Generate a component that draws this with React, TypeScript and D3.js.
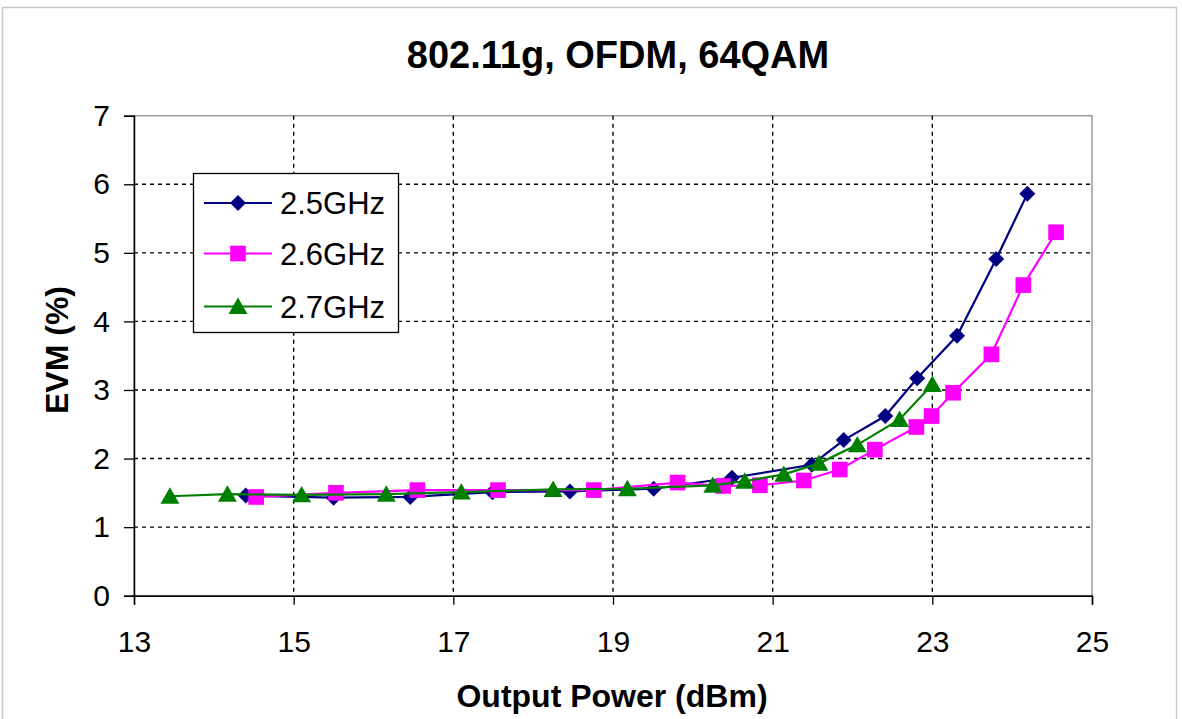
import React, { useEffect, useRef } from 'react';
import * as d3 from 'd3';

interface Pt {
    x: number;
    y: number;
}

// Output power (dBm) and EVM (%) per frequency
const powerA = [14.4, 15.5, 16.46, 17.49, 18.46, 19.51, 20.49, 21.49, 21.89, 22.41, 22.81, 23.31, 23.8, 24.19];
const evmA = [1.46, 1.43, 1.44, 1.51, 1.52, 1.56, 1.72, 1.91, 2.27, 2.62, 3.17, 3.79, 4.91, 5.86];

const powerB = [14.53, 15.53, 16.55, 17.56, 18.76, 19.81, 20.38, 20.84, 21.39, 21.84, 22.28, 22.8, 22.99, 23.26, 23.74, 24.14, 24.55];
const evmB = [1.44, 1.5, 1.54, 1.54, 1.54, 1.65, 1.6, 1.61, 1.68, 1.84, 2.13, 2.46, 2.62, 2.96, 3.52, 4.53, 5.3];

const powerC = [13.45, 14.17, 15.1, 16.16, 17.1, 18.25, 19.18, 20.25, 20.65, 21.14, 21.58, 22.06, 22.59, 23.0];
const evmC = [1.45, 1.48, 1.47, 1.48, 1.51, 1.55, 1.56, 1.61, 1.67, 1.77, 1.93, 2.2, 2.57, 3.08];

const seriesNames = ['2.5GHz', '2.6GHz', '2.7GHz'];
const xTicks = [13, 15, 17, 19, 21, 23, 25];
const yTicks = [0, 1, 2, 3, 4, 5, 6, 7];

const colors = ['#000080', '#FF00FF', '#008000'];

const zip = (xs: number[], ys: number[]): Pt[] => xs.map((x, i) => ({ x, y: ys[i] }));

const App: React.FC = () => {
    const svgRef = useRef<SVGSVGElement | null>(null);

    useEffect(() => {
        if (!svgRef.current) return;
        const svg = d3.select(svgRef.current);
        svg.selectAll('*').remove();

        const width = 1182;
        const height = 719;
        const font = '"Liberation Sans", Arial, sans-serif';

        const x = d3.scaleLinear().domain([13, 25]).range([134, 1092]);
        const y = d3.scaleLinear().domain([0, 7]).range([595.7, 115.7]);

        svg.attr('width', width).attr('height', height);

        svg.append('rect')
            .attr('x', 0).attr('y', 0)
            .attr('width', width).attr('height', height)
            .attr('fill', '#ffffff');

        // outer chart frame
        svg.append('rect')
            .attr('x', 2.5).attr('y', 7.5)
            .attr('width', 1174).attr('height', 720)
            .attr('fill', 'none')
            .attr('stroke', '#c8c8c8')
            .attr('stroke-width', 1.5);

        // plot area border
        svg.append('rect')
            .attr('x', x(13)).attr('y', y(7))
            .attr('width', x(25) - x(13)).attr('height', y(0) - y(7))
            .attr('fill', 'none')
            .attr('stroke', '#9a9a9a')
            .attr('stroke-width', 1.5);

        // dashed grid
        svg.append('g')
            .selectAll('line')
            .data(yTicks.filter((t) => t > 0 && t < 7))
            .join('line')
            .attr('x1', x(13)).attr('x2', x(25))
            .attr('y1', (d) => y(d)).attr('y2', (d) => y(d))
            .attr('stroke', '#000')
            .attr('stroke-width', 1.4)
            .attr('stroke-dasharray', '4,4');

        svg.append('g')
            .selectAll('line')
            .data(xTicks.filter((t) => t > 13 && t < 25))
            .join('line')
            .attr('x1', (d) => x(d)).attr('x2', (d) => x(d))
            .attr('y1', y(7)).attr('y2', y(0))
            .attr('stroke', '#000')
            .attr('stroke-width', 1.4)
            .attr('stroke-dasharray', '4,4');

        // axes
        const xAxis = svg.append('g')
            .attr('transform', `translate(0,${y(0)})`)
            .call(d3.axisBottom(x).tickValues(xTicks).tickSize(9).tickPadding(26).tickFormat(d3.format('d')));
        xAxis.select('.domain').attr('stroke', '#000').attr('stroke-width', 1.5);
        xAxis.selectAll('.tick line').attr('stroke', '#000').attr('stroke-width', 1.3);
        xAxis.selectAll('text')
            .attr('font-family', font)
            .attr('font-size', 30)
            .attr('fill', '#000');

        const yAxis = svg.append('g')
            .attr('transform', `translate(${x(13)},0)`)
            .call(d3.axisLeft(y).tickValues(yTicks).tickSize(10).tickPadding(14).tickFormat(d3.format('d')));
        yAxis.select('.domain').attr('stroke', '#000').attr('stroke-width', 1.5);
        yAxis.selectAll('.tick line').attr('stroke', '#000').attr('stroke-width', 1.3);
        yAxis.selectAll('text')
            .attr('font-family', font)
            .attr('font-size', 30)
            .attr('fill', '#000');

        // title and axis labels
        svg.append('text')
            .attr('x', 618).attr('y', 68)
            .attr('text-anchor', 'middle')
            .attr('font-family', font)
            .attr('font-size', 38)
            .attr('font-weight', 'bold')
            .text('802.11g, OFDM, 64QAM');

        svg.append('text')
            .attr('x', 612).attr('y', 707)
            .attr('text-anchor', 'middle')
            .attr('font-family', font)
            .attr('font-size', 32)
            .attr('font-weight', 'bold')
            .text('Output Power (dBm)');

        svg.append('text')
            .attr('transform', `translate(68,350) rotate(-90)`)
            .attr('text-anchor', 'middle')
            .attr('font-family', font)
            .attr('font-size', 32)
            .attr('font-weight', 'bold')
            .text('EVM (%)');

        const series: Pt[][] = [zip(powerA, evmA), zip(powerB, evmB), zip(powerC, evmC)];

        const symbols = [
            d3.symbol().type(d3.symbolSquare).size(128),
            d3.symbol().type(d3.symbolSquare).size(245),
            d3.symbol().type(d3.symbolTriangle).size(155),
        ];
        const rotations = [45, 0, 0];

        const line = d3.line<Pt>()
            .x((d) => x(d.x))
            .y((d) => y(d.y));

        series.forEach((data, i) => {
            const g = svg.append('g');
            g.append('path')
                .datum(data)
                .attr('fill', 'none')
                .attr('stroke', colors[i])
                .attr('stroke-width', 2.2)
                .attr('d', line);

            g.selectAll('path.mark')
                .data(data)
                .join('path')
                .attr('class', 'mark')
                .attr('d', symbols[i]())
                .attr('transform', (d) => `translate(${x(d.x)},${y(d.y) + (i === 2 ? 2 : 0)}) rotate(${rotations[i]})`)
                .attr('fill', colors[i]);
        });

        // legend
        const legend = svg.append('g');
        legend.append('rect')
            .attr('x', 193.5).attr('y', 173.5)
            .attr('width', 205).attr('height', 159)
            .attr('fill', '#fff')
            .attr('stroke', '#000')
            .attr('stroke-width', 1.3);

        const rowY = [203, 253.5, 306.5];
        seriesNames.forEach((name, i) => {
            legend.append('line')
                .attr('x1', 204).attr('x2', 272)
                .attr('y1', rowY[i]).attr('y2', rowY[i])
                .attr('stroke', colors[i])
                .attr('stroke-width', 2.2);
            legend.append('path')
                .attr('d', symbols[i]())
                .attr('transform', `translate(238,${rowY[i] + (i === 2 ? 2 : 0)}) rotate(${rotations[i]})`)
                .attr('fill', colors[i]);
            legend.append('text')
                .attr('x', 280).attr('y', rowY[i] + 11)
                .attr('font-family', font)
                .attr('font-size', 31)
                .attr('fill', '#000')
                .text(name);
        });
    }, []);

    return (
        <div style={{ position: 'absolute', left: 0, top: 0 }}>
            <svg ref={svgRef} style={{ display: 'block' }}></svg>
        </div>
    );
};

export default App;
